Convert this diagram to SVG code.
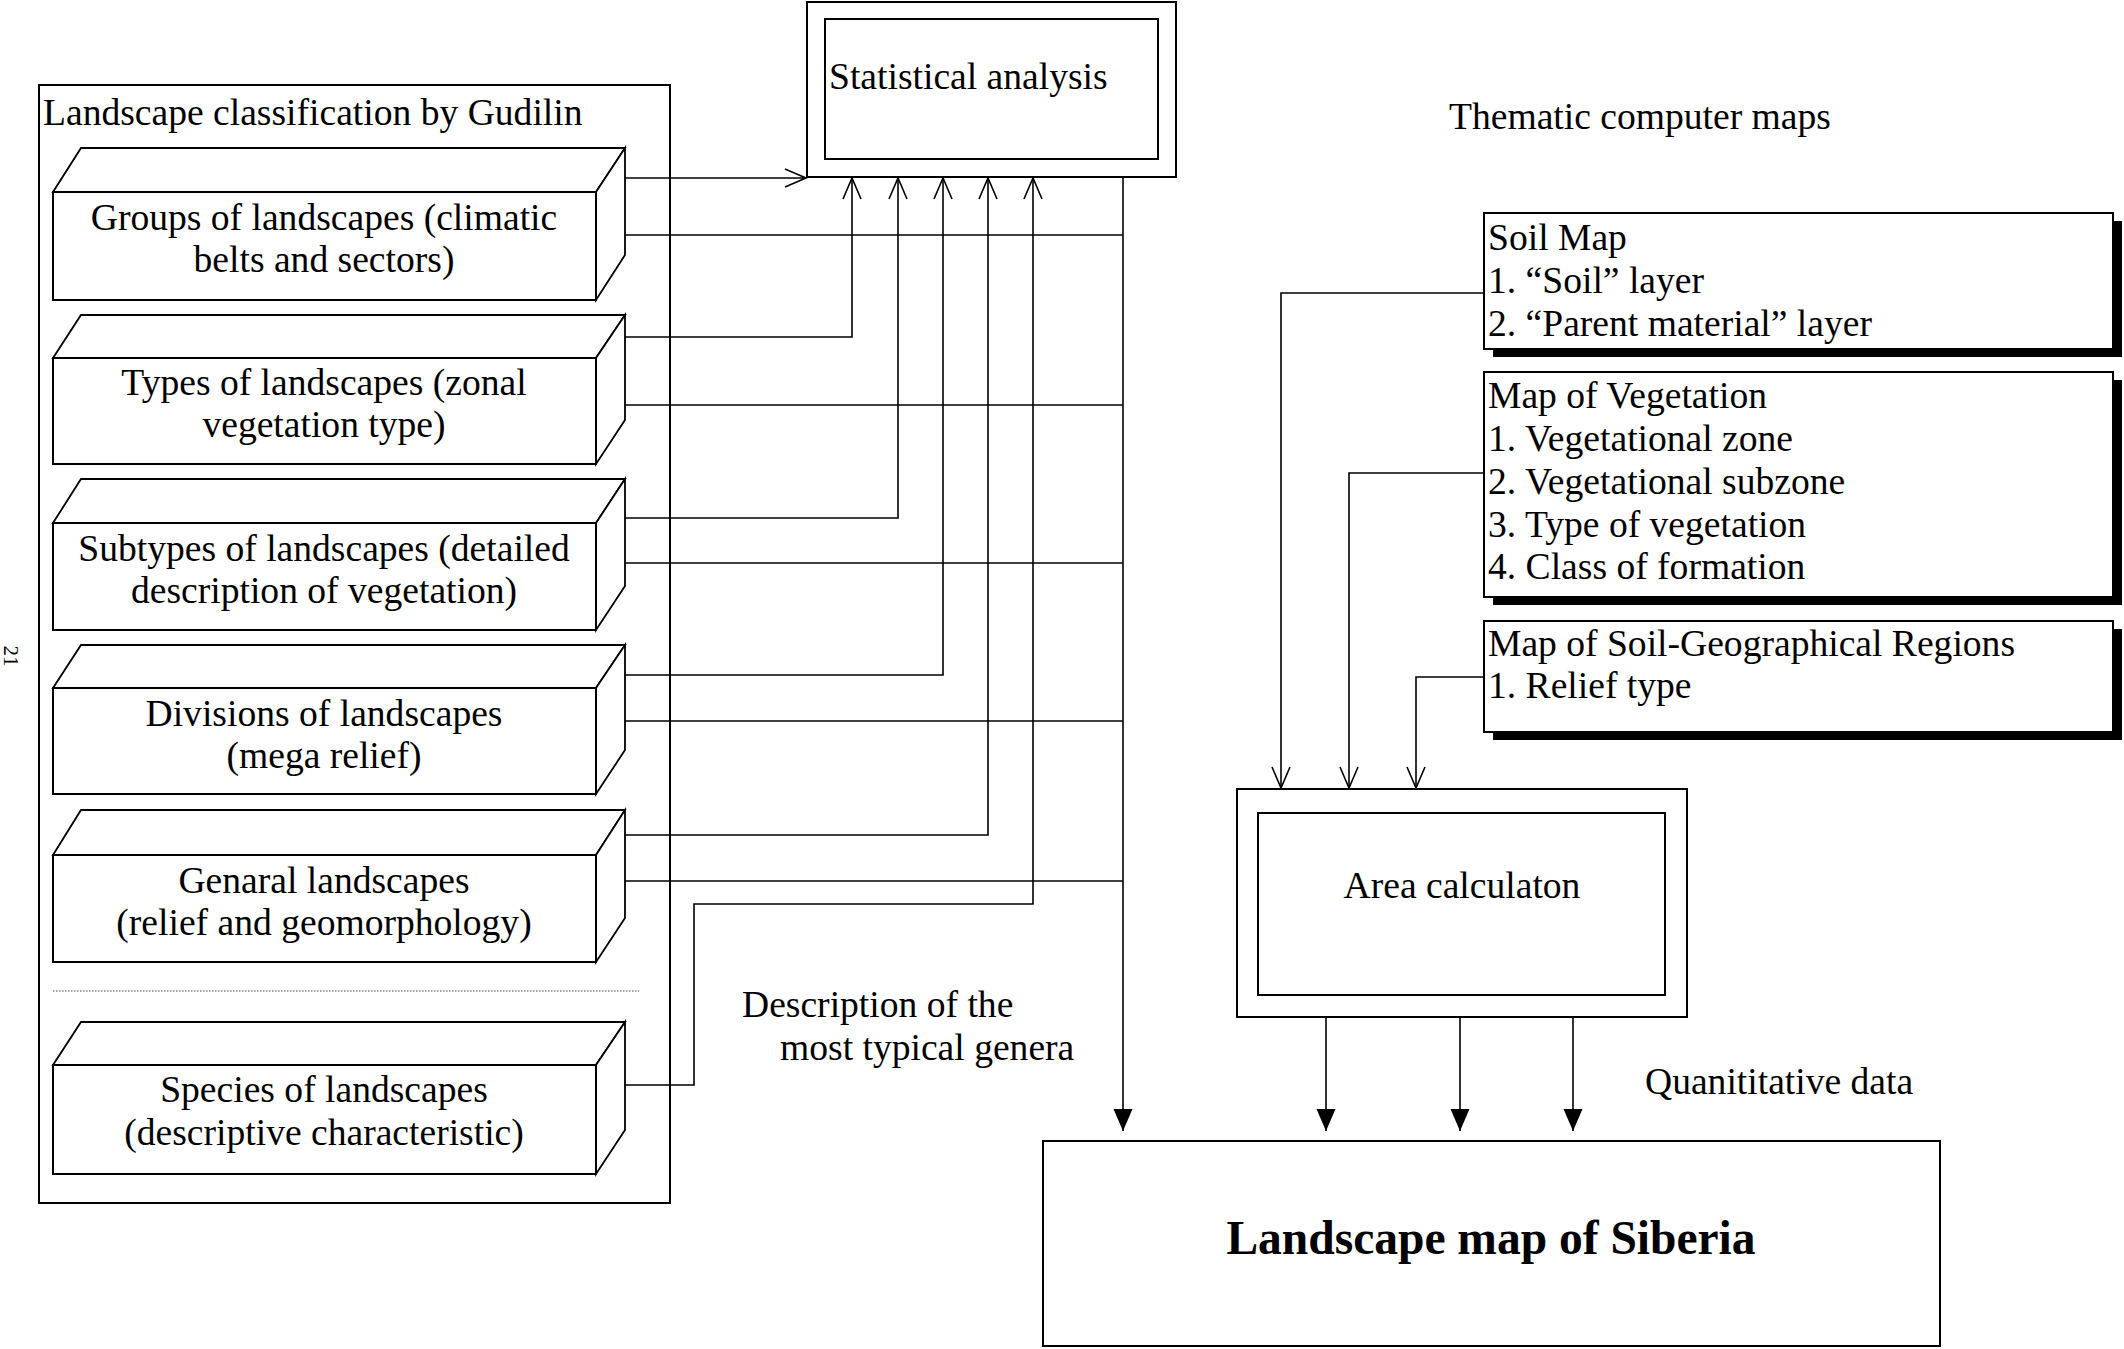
<svg xmlns="http://www.w3.org/2000/svg" width="2124" height="1349" viewBox="0 0 2124 1349">
<style>
text{font-family:"Liberation Serif","Times New Roman",serif;font-size:37.6px;fill:#000}
.c{text-anchor:middle}
.b{font-weight:bold;font-size:47.5px}
.box{fill:#fff;stroke:#000;stroke-width:2}
.face{fill:#fff;stroke:#000;stroke-width:1.8;stroke-linejoin:miter}
.ln{fill:none;stroke:#000;stroke-width:1.6}
.dot{fill:none;stroke:#444;stroke-width:1.2;stroke-dasharray:1.5 1.5}
</style>
<defs>
<marker id="open" markerUnits="userSpaceOnUse" markerWidth="26" markerHeight="22" viewBox="-23 -11 25 22" refX="0" refY="0" orient="auto"><path d="M-21,-9 L0,0 L-21,9" fill="none" stroke="#000" stroke-width="1.6"/></marker>
<marker id="fill" markerUnits="userSpaceOnUse" markerWidth="26" markerHeight="22" viewBox="-23 -11 25 22" refX="0" refY="0" orient="auto"><path d="M-22,-9.5 L0,0 L-22,9.5 Z" fill="#000"/></marker>
</defs>
<rect width="2124" height="1349" fill="#fff"/>
<text transform="translate(4,656) rotate(90)" class="c" style="font-size:21px">21</text>

<g id="classification">
<rect class="box" x="39" y="85" width="631" height="1118"/>
<text x="43" y="125">Landscape classification by Gudilin</text>
</g>

<g id="groups">
<polygon class="face" points="53,192 81,148 625,148 596,192"/>
<polygon class="face" points="596,192 625,148 625,255 596,300"/>
<rect class="box" x="53" y="192" width="543" height="108"/>
<text class="c" x="324" y="230">Groups of landscapes (climatic</text>
<text class="c" x="324" y="272">belts and sectors)</text>
</g>
<g id="types">
<polygon class="face" points="53,358 81,315 625,315 596,358"/>
<polygon class="face" points="596,358 625,315 625,420 596,464"/>
<rect class="box" x="53" y="358" width="543" height="106"/>
<text class="c" x="324" y="395">Types of landscapes (zonal</text>
<text class="c" x="324" y="437">vegetation type)</text>
</g>
<g id="subtypes">
<polygon class="face" points="53,523 81,479 625,479 596,523"/>
<polygon class="face" points="596,523 625,479 625,586 596,630"/>
<rect class="box" x="53" y="523" width="543" height="107"/>
<text class="c" x="324" y="561">Subtypes of landscapes (detailed</text>
<text class="c" x="324" y="603">description of vegetation)</text>
</g>
<g id="divisions">
<polygon class="face" points="53,688 81,645 625,645 596,688"/>
<polygon class="face" points="596,688 625,645 625,750 596,794"/>
<rect class="box" x="53" y="688" width="543" height="106"/>
<text class="c" x="324" y="726">Divisions of landscapes</text>
<text class="c" x="324" y="768">(mega relief)</text>
</g>
<g id="general">
<polygon class="face" points="53,855 81,810 625,810 596,855"/>
<polygon class="face" points="596,855 625,810 625,918 596,962"/>
<rect class="box" x="53" y="855" width="543" height="107"/>
<text class="c" x="324" y="893">Genaral landscapes</text>
<text class="c" x="324" y="935">(relief and geomorphology)</text>
</g>
<line class="dot" x1="53" y1="991" x2="639" y2="991"/>
<g id="species">
<polygon class="face" points="53,1065 81,1022 625,1022 596,1065"/>
<polygon class="face" points="596,1065 625,1022 625,1130 596,1174"/>
<rect class="box" x="53" y="1065" width="543" height="109"/>
<text class="c" x="324" y="1102">Species of landscapes</text>
<text class="c" x="324" y="1145">(descriptive characteristic)</text>
</g>

<g id="statistical">
<rect class="box" x="807" y="2" width="369" height="175"/>
<rect class="box" x="825" y="19" width="333" height="140"/>
<text x="829" y="89">Statistical analysis</text>
</g>

<text x="1449" y="129">Thematic computer maps</text>

<g id="soilmap">
<rect x="1493" y="221" width="629" height="136" fill="#000"/>
<rect class="box" x="1484" y="213" width="629" height="136"/>
<text x="1488" y="250">Soil Map</text>
<text x="1488" y="293">1. “Soil” layer</text>
<text x="1488" y="336">2. “Parent material” layer</text>
</g>
<g id="vegetation">
<rect x="1493" y="380" width="629" height="225" fill="#000"/>
<rect class="box" x="1484" y="372" width="629" height="225"/>
<text x="1488" y="408">Map of Vegetation</text>
<text x="1488" y="451">1. Vegetational zone</text>
<text x="1488" y="494">2. Vegetational subzone</text>
<text x="1488" y="537">3. Type of vegetation</text>
<text x="1488" y="579">4. Class of formation</text>
</g>
<g id="soilgeo">
<rect x="1493" y="629" width="629" height="111" fill="#000"/>
<rect class="box" x="1484" y="621" width="629" height="111"/>
<text x="1488" y="656">Map of Soil-Geographical Regions</text>
<text x="1488" y="698">1. Relief type</text>
</g>

<g id="area">
<rect class="box" x="1237" y="789" width="450" height="228"/>
<rect class="box" x="1258" y="813" width="407" height="182"/>
<text class="c" x="1462" y="898">Area calculaton</text>
</g>

<g id="landscapemap">
<rect class="box" x="1043" y="1141" width="897" height="205"/>
<text class="c b" x="1491" y="1254">Landscape map of Siberia</text>
</g>

<text x="742" y="1017">Description of the</text>
<text x="780" y="1060">most typical genera</text>
<text x="1645" y="1094">Quanititative data</text>

<g id="connectors">
<path class="ln" d="M625,178 H806" marker-end="url(#open)"/>
<path class="ln" d="M625,337 H852 V178" marker-end="url(#open)"/>
<path class="ln" d="M625,518 H898 V178" marker-end="url(#open)"/>
<path class="ln" d="M625,675 H943 V178" marker-end="url(#open)"/>
<path class="ln" d="M625,835 H988 V178" marker-end="url(#open)"/>
<path class="ln" d="M625,1085 H694 V904 H1033 V178" marker-end="url(#open)"/>
<path class="ln" d="M625,235 H1123"/>
<path class="ln" d="M625,405 H1123"/>
<path class="ln" d="M625,563 H1123"/>
<path class="ln" d="M625,721 H1123"/>
<path class="ln" d="M625,881 H1123"/>
<path class="ln" d="M1123,177 V1131" marker-end="url(#fill)"/>
<path class="ln" d="M1484,293 H1281 V788" marker-end="url(#open)"/>
<path class="ln" d="M1484,473 H1349 V788" marker-end="url(#open)"/>
<path class="ln" d="M1484,677 H1416 V788" marker-end="url(#open)"/>
<path class="ln" d="M1326,1017 V1131" marker-end="url(#fill)"/>
<path class="ln" d="M1460,1017 V1131" marker-end="url(#fill)"/>
<path class="ln" d="M1573,1017 V1131" marker-end="url(#fill)"/>
</g>
</svg>
